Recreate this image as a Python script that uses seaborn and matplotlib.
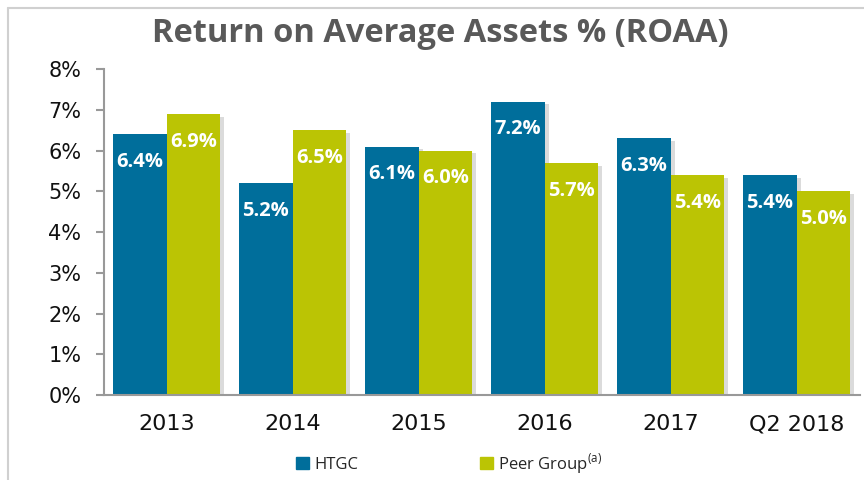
import matplotlib
matplotlib.use("Agg")
import matplotlib.pyplot as plt
import matplotlib.lines as mlines
import matplotlib.patches as mpatches
import matplotlib.patheffects as pe
import seaborn as sns
import pandas as pd

# dados do gráfico
periodos = ['2013', '2014', '2015', '2016', '2017', 'Q2 2018']
htgc = [6.4, 5.2, 6.1, 7.2, 6.3, 5.4]
peer = [6.9, 6.5, 6.0, 5.7, 5.4, 5.0]
series = ['HTGC', 'Peer Group']
cores = {'HTGC': '#006e9b', 'Peer Group': '#bbc404'}

df = pd.DataFrame({
    'periodo': periodos * 2,
    'valor': htgc + peer,
    'serie': [series[0]] * len(htgc) + [series[1]] * len(peer),
})

sns.set_style('white')
plt.rcParams['font.family'] = ['Open Sans', 'DejaVu Sans']
plt.rcParams['mathtext.fontset'] = 'custom'
plt.rcParams['mathtext.rm'] = 'Open Sans'

fig = plt.figure(figsize=(8.64, 4.8), dpi=100)
ax = fig.add_axes([0.120, 0.177, 0.875, 0.679])

sns.barplot(data=df, x='periodo', y='valor', hue='serie', palette=cores,
            width=0.85, gap=0, saturation=1, linewidth=0, ax=ax, legend=False)

# sombra leve + rótulos dentro das barras
sombra = [pe.SimplePatchShadow(offset=(3, -2), shadow_rgbFace='#888888', alpha=0.3),
          pe.Normal()]
for cont in ax.containers:
    for bar in cont:
        bar.set_path_effects(sombra)
        h = bar.get_height()
        ax.text(bar.get_x() + bar.get_width() / 2, h - 0.68, f'{h:.1f}%',
                ha='center', va='center', color='white', fontsize=14.5,
                fontweight='bold', zorder=5)

ax.set_ylim(0, 8)
ax.set_xlim(-0.5, len(periodos) - 0.5)
ax.set_yticks(range(0, 9))
ax.set_yticklabels([f'{v}%' for v in range(0, 9)], fontsize=15,
                   family='DejaVu Sans')
ax.set_xticks(range(len(periodos)))
ax.set_xticklabels(periodos, fontsize=16, family='DejaVu Sans')
ax.set_xticks([i - 0.5 for i in range(len(periodos) + 1)], minor=True)
ax.tick_params(axis='x', which='major', length=0, pad=14, colors='#111111')
ax.tick_params(axis='x', which='minor', length=7, width=1.5, color='#999999')
ax.tick_params(axis='y', length=6, width=1.5, color='#999999', pad=10,
               colors='#111111', left=True)
ax.set_xlabel('')
ax.set_ylabel('')

for lado in ['top', 'right']:
    ax.spines[lado].set_visible(False)
for lado in ['left', 'bottom']:
    ax.spines[lado].set_color('#999999')
    ax.spines[lado].set_linewidth(1.5)

fig.suptitle('Return on Average Assets % (ROAA)', x=0.51, y=0.965,
             fontsize=23.5, fontweight='bold', color='#595959')

# legenda
handles = [mpatches.Patch(color=cores['HTGC'], label='HTGC'),
           mpatches.Patch(color=cores['Peer Group'], label='Peer Group$^{\\mathrm{(a)}}$')]
fig.legend(handles=handles, loc='center', bbox_to_anchor=(0.52, 0.035),
           ncol=2, frameon=False, fontsize=12, handlelength=0.8,
           handleheight=0.8, handletextpad=0.3, columnspacing=7.3)

# moldura cinza
fig.add_artist(mlines.Line2D([0.009, 0.009], [0, 0.983], color='#d0d0d0', lw=1.5))
fig.add_artist(mlines.Line2D([0.009, 1], [0.983, 0.983], color='#d0d0d0', lw=1.5))

fig.savefig('out.png', dpi=100)
